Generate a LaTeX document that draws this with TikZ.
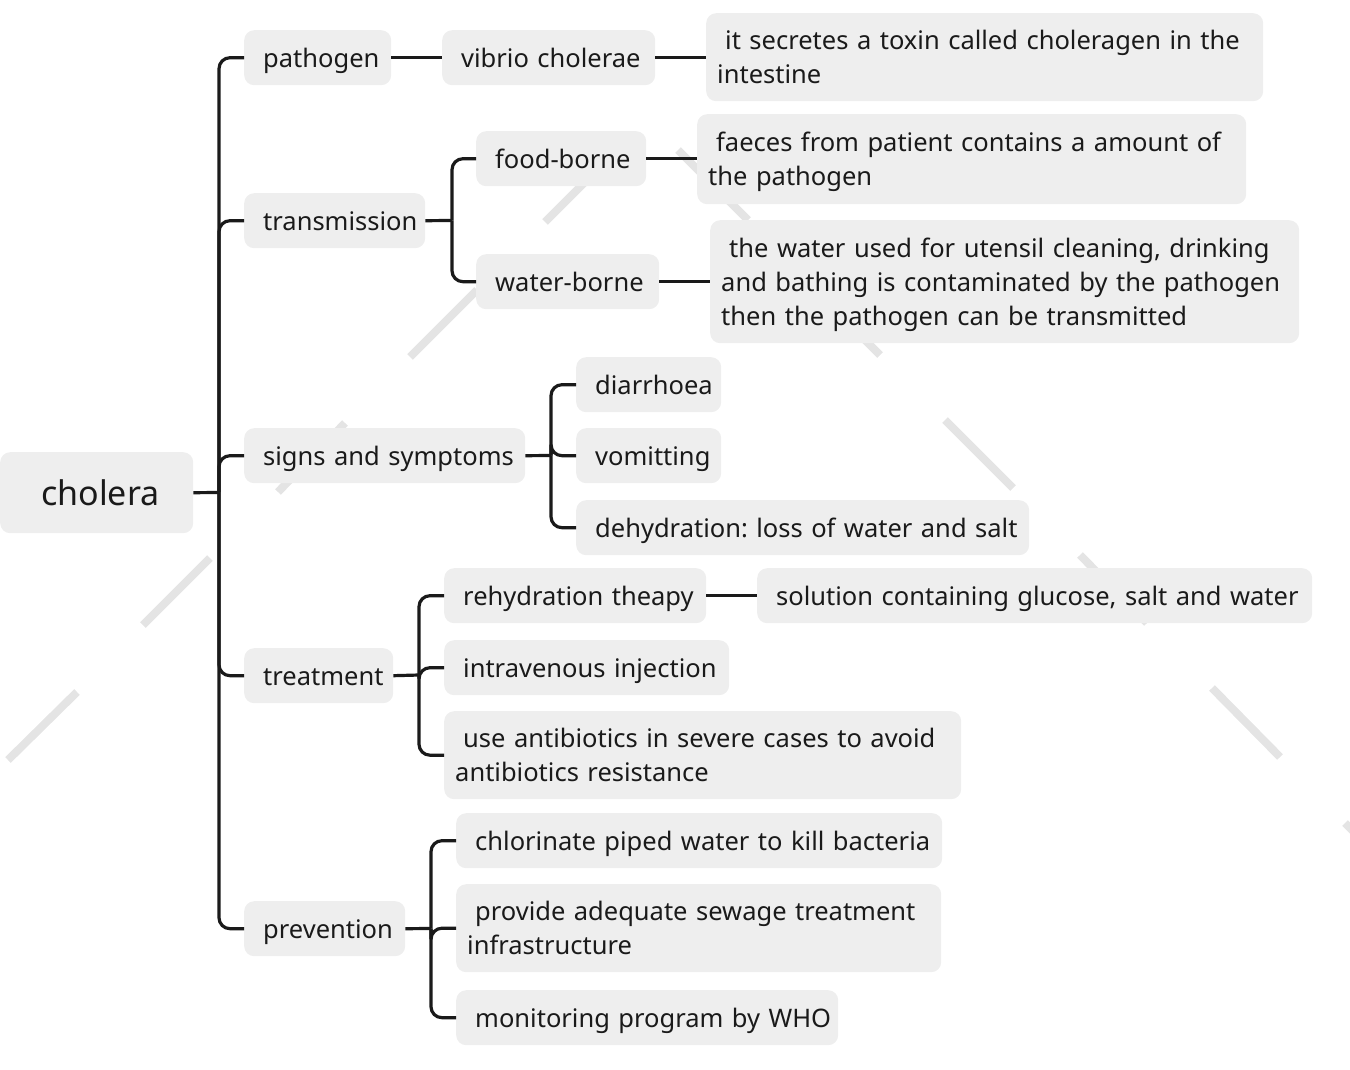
\documentclass[tikz,border=0pt]{standalone}
\usepackage{fontspec}
\setmainfont{Noto Sans}
\definecolor{boxgray}{HTML}{EEEEEE}
\definecolor{ink}{HTML}{1A1A1A}
\definecolor{wm}{HTML}{E4E4E4}
\frenchspacing
\begin{document}
\begin{tikzpicture}[x=1pt,y=-1pt,
  box/.style={fill=boxgray, rounded corners=10pt, anchor=north west, align=left,
    text=ink, font=\fontsize{25.5}{34}\selectfont, inner ysep=0pt},
  one/.style={inner xsep=19pt, minimum height=55pt, text height=22pt, text depth=3pt},
  two/.style={inner xsep=11pt, minimum height=88pt, text height=22pt, text depth=37pt},
  three/.style={inner xsep=11pt, minimum height=123pt, text height=22pt, text depth=71pt},
  conn/.style={draw=ink, line width=3.2pt, rounded corners=11pt},
  wmline/.style={draw=wm, line width=8pt}]
\useasboundingbox (0,0) rectangle (1350,1070);
% watermark dashes
\draw[wmline] (8,760) -- (77,692);
\draw[wmline] (143,625) -- (210,558);
\draw[wmline] (278,492) -- (345,423);
\draw[wmline] (410,357) -- (477,290);
\draw[wmline] (545,222) -- (612,155);
\draw[wmline] (678,150) -- (748,220);
\draw[wmline] (812,287) -- (880,355);
\draw[wmline] (945,420) -- (1013,488);
\draw[wmline] (1080,555) -- (1147,623);
\draw[wmline] (1212,688) -- (1280,757);
\draw[wmline] (1345,823) -- (1413,891);
% root
\node[box, inner xsep=0pt, text width=193pt, minimum height=81pt,
  text height=28pt, text depth=3pt, font=\fontsize{34}{40}\selectfont] (cholera) at (0,452) {\mbox{\hspace*{41pt}cholera}};
% level 1
\node[box,one,text width=109pt] (pathogen) at (244,30) {\mbox{pathogen}};
\node[box,one,text width=143pt] (transmission) at (244,193) {\mbox{transmission}};
\node[box,one,text width=243pt] (signs) at (244,428) {\mbox{signs and symptoms}};
\node[box,one,text width=111pt] (treatment) at (244,648) {\mbox{treatment}};
\node[box,one,text width=123pt] (prevention) at (244,901) {\mbox{prevention}};
% level 2/3
\node[box,one,text width=175pt] (vibrio) at (442,30) {\mbox{vibrio cholerae}};
\node[box,two,text width=535pt] (toxin) at (706,13) {\mbox{\hspace*{8pt}it secretes a toxin called choleragen in the}\\\mbox{intestine}};
\node[box,one,text width=132pt] (food) at (476,131) {\mbox{food-borne}};
\node[box,two,minimum height=90pt,text width=527pt] (faeces) at (697,114) {\mbox{\hspace*{8pt}faeces from patient contains a amount of}\\\mbox{the pathogen}};
\node[box,one,text width=145pt] (water) at (476,254) {\mbox{water-borne}};
\node[box,three,text width=567pt] (watertext) at (710,220) {\mbox{\hspace*{8pt}the water used for utensil cleaning, drinking}\\\mbox{and bathing is contaminated by the pathogen}\\\mbox{then the pathogen can be transmitted}};
\node[box,one,text width=107pt] (diarrhoea) at (576,357) {\mbox{diarrhoea}};
\node[box,one,text width=107pt] (vomitting) at (576,428) {\mbox{vomitting}};
\node[box,one,text width=415pt] (dehydration) at (576,500) {\mbox{dehydration: loss of water and salt}};
\node[box,one,text width=224pt] (rehydration) at (444,568) {\mbox{rehydration theapy}};
\node[box,one,text width=517pt] (solution) at (757,568) {\mbox{solution containing glucose, salt and water}};
\node[box,one,text width=247pt] (intravenous) at (444,640) {\mbox{intravenous injection}};
\node[box,two,text width=495pt] (antibiotics) at (444,711) {\mbox{\hspace*{8pt}use antibiotics in severe cases to avoid}\\\mbox{antibiotics resistance}};
\node[box,one,text width=448pt] (chlorinate) at (456,813) {\mbox{chlorinate piped water to kill bacteria}};
\node[box,two,text width=463pt] (sewage) at (456,884) {\mbox{\hspace*{8pt}provide adequate sewage treatment}\\\mbox{infrastructure}};
\node[box,one,text width=344pt] (monitoring) at (456,990) {\mbox{monitoring program by WHO}};
% junctions
\coordinate (j0) at (219,492.5);
\coordinate (j1) at (452,220.5);
\coordinate (j2) at (551,455.5);
\coordinate (j3) at (419,675);
\coordinate (j4) at (431,928.5);
% connectors
\draw[conn] (cholera.east) -- (j0);
\foreach \n in {pathogen,transmission,signs,treatment,prevention}
  \draw[conn] (j0) |- (\n.west);
\draw[conn] (transmission.east) -- (j1);
\foreach \n in {food,water} \draw[conn] (j1) |- (\n.west);
\draw[conn] (signs.east) -- (j2);
\foreach \n in {diarrhoea,vomitting,dehydration} \draw[conn] (j2) |- (\n.west);
\draw[conn] (treatment.east) -- (j3);
\foreach \n in {rehydration,intravenous,antibiotics} \draw[conn] (j3) |- (\n.west);
\draw[conn] (prevention.east) -- (j4);
\foreach \n in {chlorinate,sewage,monitoring} \draw[conn] (j4) |- (\n.west);
\draw[conn] (pathogen.east) -- (pathogen.east -| vibrio.west);
\draw[conn] (vibrio.east) -- (vibrio.east -| toxin.west);
\draw[conn] (food.east) -- (food.east -| faeces.west);
\draw[conn] (water.east) -- (water.east -| watertext.west);
\draw[conn] (rehydration.east) -- (rehydration.east -| solution.west);
\end{tikzpicture}
\end{document}
